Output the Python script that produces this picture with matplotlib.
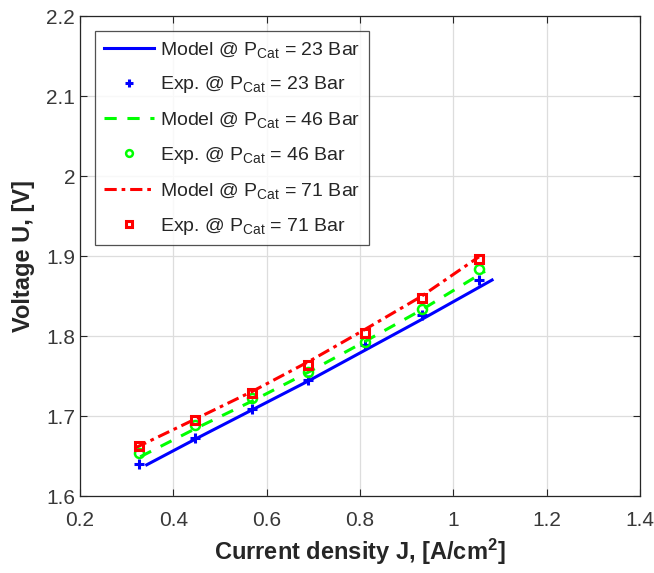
import numpy as np
import matplotlib
matplotlib.use("Agg")
import matplotlib.pyplot as plt

plt.rcParams['font.family'] = ['Liberation Sans', 'DejaVu Sans']
plt.rcParams['mathtext.fontset'] = 'custom'
plt.rcParams['mathtext.rm'] = 'Liberation Sans'
plt.rcParams['mathtext.it'] = 'Liberation Sans:italic'
plt.rcParams['mathtext.bf'] = 'Liberation Sans:bold'

# Datos experimentales (densidad de corriente, voltaje)
j_exp = [0.326, 0.446, 0.569, 0.689, 0.810, 0.933, 1.054]
u_exp_23 = [1.640, 1.673, 1.709, 1.745, 1.789, 1.826, 1.870]
u_exp_46 = [1.654, 1.689, 1.722, 1.755, 1.793, 1.834, 1.884]
u_exp_71 = [1.662, 1.695, 1.729, 1.764, 1.804, 1.847, 1.896]

# Curvas del modelo
j_mod_23 = [0.343, 0.45, 0.57, 0.69, 0.81, 0.93, 1.083]
u_mod_23 = [1.639, 1.672, 1.708, 1.744, 1.782, 1.820, 1.870]
j_mod_46 = [0.329, 0.45, 0.57, 0.69, 0.81, 0.93, 1.068]
u_mod_46 = [1.649, 1.685, 1.719, 1.755, 1.793, 1.832, 1.881]
j_mod_71 = [0.318, 0.45, 0.57, 0.69, 0.81, 0.93, 1.055]
u_mod_71 = [1.660, 1.697, 1.731, 1.768, 1.808, 1.849, 1.899]

x_ticks = [0.2, 0.4, 0.6, 0.8, 1.0, 1.2, 1.4]
x_tick_labels = ["0.2", "0.4", "0.6", "0.8", "1", "1.2", "1.4"]
y_ticks = [1.6, 1.7, 1.8, 1.9, 2.0, 2.1, 2.2]
y_tick_labels = ["1.6", "1.7", "1.8", "1.9", "2", "2.1", "2.2"]

fig = plt.figure(figsize=(6.54, 5.73), dpi=100)
ax = fig.add_axes([80 / 654, 1 - 496 / 573, 560 / 654, 480 / 573])

ax.plot(j_mod_23, u_mod_23, '-', color=(0, 0, 1), lw=2.2,
        label=r'Model @ P$_{\mathrm{Cat}}$ = 23 Bar')
ax.plot(j_exp, u_exp_23, '+', color=(0, 0, 1), ms=7.5, mew=2.2, ls='none',
        label=r'Exp. @ P$_{\mathrm{Cat}}$ = 23 Bar')
ax.plot(j_mod_46, u_mod_46, '--', color=(0, 1, 0), lw=2.2, dashes=(4, 3.5),
        label=r'Model @ P$_{\mathrm{Cat}}$ = 46 Bar')
ax.plot(j_exp, u_exp_46, 'o', color=(0, 1, 0), ms=6.5, mew=1.8, mfc='none', ls='none',
        label=r'Exp. @ P$_{\mathrm{Cat}}$ = 46 Bar')
ax.plot(j_mod_71, u_mod_71, '-.', color=(1, 0, 0), lw=2.2, dashes=(4, 1.6, 1.2, 1.6),
        label=r'Model @ P$_{\mathrm{Cat}}$ = 71 Bar')
ax.plot(j_exp, u_exp_71, 's', color=(1, 0, 0), ms=5.5, mew=2.2, mfc='none', ls='none',
        label=r'Exp. @ P$_{\mathrm{Cat}}$ = 71 Bar')

ax.set_xlim(0.2, 1.4)
ax.set_ylim(1.6, 2.2)
ax.set_xticks(x_ticks)
ax.set_xticklabels(x_tick_labels)
ax.set_yticks(y_ticks)
ax.set_yticklabels(y_tick_labels)
ax.tick_params(direction='in', length=5, width=0.8, labelsize=15,
               colors='#262626', labelcolor='#383838', top=True, right=True)
ax.tick_params(axis='x', pad=11)
ax.grid(True, color='#dddddd', lw=0.9)
ax.set_axisbelow(True)
for s in ax.spines.values():
    s.set_color('#262626')
    s.set_linewidth(0.9)

ax.set_xlabel(r'Current density J, [A/cm$^{\mathbf{2}}$]', fontsize=17,
              fontweight='bold', color='#262626', labelpad=5)
ax.set_ylabel('Voltage U, [V]', fontsize=17, fontweight='bold', color='#262626',
              labelpad=8)

leg = ax.legend(loc='upper left', bbox_to_anchor=(0.027, 0.969), fontsize=14,
                frameon=True, fancybox=False, edgecolor='#262626', handlelength=2.6,
                handletextpad=0.3, labelspacing=0.76, borderpad=0.45,
                borderaxespad=0, markerscale=0.75)
leg.get_frame().set_linewidth(0.9)
for t in leg.get_texts():
    t.set_color('#262626')

fig.savefig("out.png", dpi=100)
